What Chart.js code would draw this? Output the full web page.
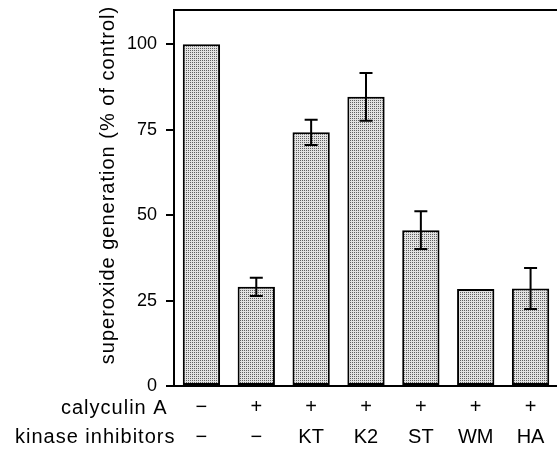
<!DOCTYPE html>
<html>
<head>
<meta charset="utf-8">
<script src="https://cdn.jsdelivr.net/npm/chart.js@4"></script>
<style>
  html, body { margin: 0; padding: 0; background: #fff; overflow: hidden; }
  #chart { display: block; }
</style>
</head>
<body>
<canvas id="chart" width="560" height="452"></canvas>
<script>
const calyculin = ["−", "+", "+", "+", "+", "+", "+"];
const inhibitors = ["−", "−", "KT", "K2", "ST", "WM", "HA"];
const superoxide = [100, 29, 74.2, 84.6, 45.6, 28.4, 28.5];
const errors = [0, 2.7, 3.7, 7, 5.5, 0, 6];
const yTicks = [0, 25, 50, 75, 100];

const FONT = "'Liberation Sans', Arial, Helvetica, sans-serif";

// stippled grey fill like the scanned figure
function stipple() {
  const c = document.createElement("canvas");
  c.width = 2;
  c.height = 2;
  const g = c.getContext("2d");
  g.fillStyle = "#e2e2e2";
  g.fillRect(0, 0, 2, 2);
  g.fillStyle = "#606060";
  g.fillRect(0, 0, 1, 1);
  return g.createPattern(c, "repeat");
}

const extras = {
  id: "extras",
  afterDatasetsDraw(chart) {
    const { ctx, chartArea } = chart;
    const x = chart.scales.x;
    const y = chart.scales.y;
    ctx.save();
    ctx.strokeStyle = "#000";
    ctx.lineWidth = 2;
    // error bars
    superoxide.forEach((v, i) => {
      if (!errors[i]) return;
      const cx = x.getPixelForValue(i);
      const top = y.getPixelForValue(v + errors[i]);
      const bot = y.getPixelForValue(v - errors[i]);
      ctx.beginPath();
      ctx.moveTo(cx, top);
      ctx.lineTo(cx, bot);
      ctx.moveTo(cx - 6.5, top);
      ctx.lineTo(cx + 6.5, top);
      ctx.moveTo(cx - 6.5, bot);
      ctx.lineTo(cx + 6.5, bot);
      ctx.stroke();
    });
    // frame
    ctx.strokeRect(chartArea.left, chartArea.top, chartArea.right - chartArea.left, chartArea.bottom - chartArea.top);
    ctx.restore();
  },
  afterDraw(chart) {
    const ctx = chart.ctx;
    ctx.save();
    ctx.fillStyle = "#000";
    ctx.font = "20px " + FONT;
    if ("letterSpacing" in ctx) ctx.letterSpacing = "1px";
    ctx.textBaseline = "middle";
    ctx.textAlign = "left";
    ctx.fillText("calyculin A", 61, 408);
    ctx.fillText("kinase inhibitors", 15, 437);
    ctx.translate(108, 185);
    ctx.rotate(-Math.PI / 2);
    ctx.textAlign = "center";
    ctx.fillText("superoxide generation (% of control)", 0, 0);
    ctx.restore();
  }
};

new Chart(document.getElementById("chart"), {
  type: "bar",
  data: {
    labels: calyculin.map((c, i) => [c, inhibitors[i]]),
    datasets: [
      {
        data: superoxide,
        backgroundColor: stipple(),
        borderColor: "#000",
        borderWidth: 2,
        borderSkipped: false,
        barPercentage: 0.68,
        categoryPercentage: 1,
      },
    ],
  },
  options: {
    responsive: false,
    animation: false,
    devicePixelRatio: 1,
    layout: { padding: { top: 10, right: 2 } },
    plugins: {
      legend: { display: false },
      tooltip: { enabled: false },
    },
    scales: {
      x: {
        grid: { display: false, drawTicks: false },
        border: { display: false },
        ticks: {
          color: "#000",
          padding: 6,
          font: { family: FONT, size: 20, lineHeight: 1.5 },
          maxRotation: 0,
        },
        afterFit: (scale) => {
          scale.height = 66;
          scale.paddingLeft = 0;
          scale.paddingRight = 0;
        },
      },
      y: {
        min: 0,
        max: 110,
        grid: {
          drawOnChartArea: false,
          tickLength: 8,
          color: "#000",
          lineWidth: 2,
        },
        border: { display: false },
        ticks: {
          color: "#000",
          padding: 9,
          stepSize: 25,
          font: { family: FONT, size: 18 },
        },
        afterBuildTicks: (scale) => {
          scale.ticks = yTicks.map((v) => ({ value: v }));
        },
        afterFit: (scale) => {
          scale.width = 174;
          scale.paddingTop = 0;
          scale.paddingBottom = 0;
        },
      },
    },
  },
  plugins: [extras],
});
</script>
</body>
</html>
